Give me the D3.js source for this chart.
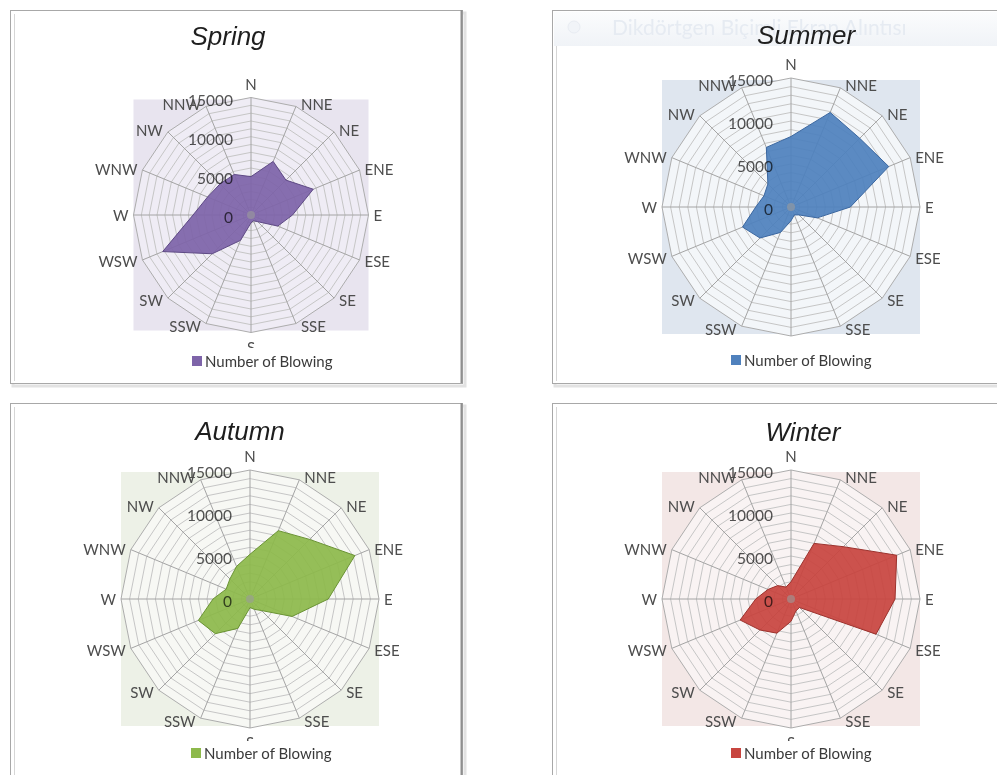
<!DOCTYPE html>
<html>
<head>
<meta charset="utf-8">
<script src="https://cdn.jsdelivr.net/npm/d3@7"></script>
<style>
  html, body { margin: 0; padding: 0; background: #ffffff; }
  svg { display: block; }
  .dir { font-family: Lato, "Open Sans", sans-serif; font-size: 15px; fill: #4d4d4d; }
  .tick { font-family: Lato, "Open Sans", sans-serif; font-size: 15.5px; fill: #555555; mix-blend-mode: multiply; }
  .title { font-family: "Liberation Sans", Arial, sans-serif; font-style: italic; font-size: 26px; fill: #1e1e1e; }
  .legend { font-family: Lato, "Open Sans", sans-serif; font-size: 15px; fill: #3a3a3a; }
  .hdr { font-family: Lato, sans-serif; font-size: 21px; fill: #e6ebf2; }
</style>
</head>
<body>
<svg id="chart" width="997" height="775"></svg>
<script>
// Wind directions, clockwise from north
const directions = ["N","NNE","NE","ENE","E","ESE","SE","SSE","S","SSW","SW","WSW","W","WNW","NW","NNW"];

// Number of blowings per direction, one array per season
const springValues = [4900, 7400, 6300, 8600, 5300, 3700, 1200, 800, 1000, 3500, 7000, 12200, 7400, 6000, 5600, 5600];
const summerValues = [8200, 11900, 11300, 12300, 6900, 3300, 1300, 1000, 1600, 3200, 5100, 6100, 4100, 3400, 3800, 7500];
const autumnValues = [5200, 8600, 9800, 13200, 9100, 5300, 1900, 1300, 1000, 3700, 5700, 6500, 4300, 3000, 3300, 4100];
const winterValues = [2000, 7000, 8600, 13300, 12100, 10700, 1400, 1500, 2600, 4300, 5100, 6400, 4100, 2900, 2200, 1500];

const seasonNames = ["Spring", "Summer", "Autumn", "Winter"];
const tickValues = [0, 5000, 10000, 15000];
const ringValues = d3.range(1000, 15001, 1000);
const axisMax = 15000;
const seriesName = "Number of Blowing";

// Panel layout and styling
const panels = [
  { values: springValues, frame: [10, 10, 462, 383], cx: 251, cy: 215, R: 117.5, titleX: 228, titleY: 45,
    legendX: 192, legendY: 356, sClip: 348,
    fill: "#7e64a9", stroke: "#5e4985", bg: "#e8e4ef", web: "#efecf5" },
  { values: summerValues, frame: [552, 10, 1004, 383], cx: 791, cy: 207, R: 129, titleX: 806, titleY: 44,
    legendX: 731, legendY: 355, sClip: 344,
    fill: "#4f81bd", stroke: "#3b67a0", bg: "#dfe6ef", web: "#f3f6f9", header: true },
  { values: autumnValues, frame: [10, 403, 462, 790], cx: 250, cy: 599, R: 129, titleX: 240, titleY: 440,
    legendX: 191, legendY: 748, sClip: 741,
    fill: "#8db94b", stroke: "#6a9334", bg: "#edf1e7", web: "#f7f8f4" },
  { values: winterValues, frame: [552, 403, 1004, 790], cx: 791, cy: 599, R: 129, titleX: 803, titleY: 441,
    legendX: 731, legendY: 748, sClip: 741,
    fill: "#c8453f", stroke: "#9c322d", bg: "#f3e7e6", web: "#f9f3f3" }
];

const svg = d3.select("#chart");
const defs = svg.append("defs");

const hdrGrad = defs.append("linearGradient").attr("id", "hdrGrad").attr("x1", 0).attr("y1", 0).attr("x2", 0).attr("y2", 1);
hdrGrad.append("stop").attr("offset", "0%").attr("stop-color", "#fbfcfd");
hdrGrad.append("stop").attr("offset", "100%").attr("stop-color", "#f0f3f7");

const angle = d3.scaleLinear().domain([0, directions.length]).range([0, 2 * Math.PI]);

panels.forEach((p, pi) => {
  const g = svg.append("g");
  const [x0, y0, x1, y1] = p.frame;

  // Frame with a soft shadow
  g.append("rect").attr("x", x0 + 3).attr("y", y0 + 3).attr("width", x1 - x0).attr("height", y1 - y0)
    .attr("fill", "none").attr("stroke", "#e2e2e2").attr("stroke-width", 3);
  g.append("rect").attr("x", x0 + 0.5).attr("y", y0 + 0.5).attr("width", x1 - x0).attr("height", y1 - y0)
    .attr("fill", "#ffffff").attr("stroke", "#a8a8a8").attr("stroke-width", 1);
  g.append("line").attr("x1", x0 + 4.5).attr("x2", x0 + 4.5).attr("y1", y0 + 4).attr("y2", y1 - 2)
    .attr("stroke", "#d6d6d6").attr("stroke-width", 1);
  g.append("line").attr("x1", x1 - 0.5).attr("x2", x1 - 0.5).attr("y1", y0).attr("y2", y1)
    .attr("stroke", "#8f8f8f").attr("stroke-width", 2);

  if (p.header) {
    // Faded caption bar across the top of this panel
    g.append("rect").attr("x", x0 + 2).attr("y", y0 + 2).attr("width", 997 - x0 - 2).attr("height", 34)
      .attr("fill", "url(#hdrGrad)");
    g.append("circle").attr("cx", x0 + 22).attr("cy", y0 + 17).attr("r", 6)
      .attr("fill", "#f1f4f8").attr("stroke", "#e8ecf2");
    g.append("text").attr("class", "hdr").attr("x", x0 + 60).attr("y", y0 + 25)
      .text("Dikdörtgen Biçimli Ekran Alıntısı");
  }

  const r = d3.scaleLinear().domain([0, axisMax]).range([0, p.R]);

  // Plot area background
  g.append("rect").attr("x", p.cx - p.R).attr("y", p.cy - p.R + 2)
    .attr("width", 2 * p.R).attr("height", 2 * p.R - 4).attr("fill", p.bg);

  const plot = g.append("g").attr("transform", `translate(${p.cx},${p.cy})`);
  const ring = v => d3.lineRadial().curve(d3.curveLinearClosed)
    .angle((d, i) => angle(i)).radius(() => r(v))(directions);

  // Web interior
  plot.append("path").attr("d", ring(axisMax)).attr("fill", p.web);

  // Concentric grid polygons
  plot.selectAll("path.ring").data(ringValues).join("path").attr("class", "ring")
    .attr("d", d => ring(d)).attr("fill", "none")
    .attr("stroke", d => d === axisMax ? "#adadad" : "#c6c6c6").attr("stroke-width", 1);

  // Spokes
  plot.selectAll("line.spoke").data(directions).join("line").attr("class", "spoke")
    .attr("x1", 0).attr("y1", 0)
    .attr("x2", (d, i) => r(axisMax) * Math.sin(angle(i)))
    .attr("y2", (d, i) => -r(axisMax) * Math.cos(angle(i)))
    .attr("stroke", "#a4a4a4").attr("stroke-width", 1);

  // Filled series area
  const area = d3.lineRadial().curve(d3.curveLinearClosed)
    .angle((d, i) => angle(i)).radius(d => r(d));
  plot.append("path").datum(p.values).attr("d", area)
    .attr("fill", p.fill).attr("fill-opacity", 0.93)
    .attr("stroke", p.stroke).attr("stroke-width", 1);

  // Faint centre hub
  plot.append("circle").attr("r", 4).attr("fill", "#9c9c9c").attr("fill-opacity", 0.6);

  // Value axis labels along the north spoke
  plot.selectAll("text.tick").data(tickValues).join("text").attr("class", "tick")
    .attr("x", -18).attr("y", d => -r(d) + 2)
    .attr("text-anchor", "end").attr("dominant-baseline", "central")
    .text(d => d);

  // Direction labels
  const clipId = "sclip" + pi;
  defs.append("clipPath").attr("id", clipId).append("rect")
    .attr("x", -40).attr("y", -p.R - 60).attr("width", 80).attr("height", p.sClip - p.cy + p.R + 60);

  const gap = 5;
  plot.selectAll("text.dir").data(directions).join("text").attr("class", "dir")
    .each(function (d, i) {
      const a = angle(i);
      const s = Math.sin(a), c = Math.cos(a);
      const ex = p.R * s, ey = -p.R * c;
      const t = d3.select(this).attr("dominant-baseline", "central");
      if (Math.abs(s) < 0.1) {
        t.attr("text-anchor", "middle").attr("x", ex).attr("y", ey - 14 * c);
      } else {
        t.attr("text-anchor", s > 0 ? "start" : "end")
          .attr("x", ex + gap * Math.sign(s)).attr("y", ey - 3 * c);
      }
      if (d === "S") t.attr("clip-path", `url(#${clipId})`);
    })
    .text(d => d);

  // Title
  g.append("text").attr("class", "title").attr("x", p.titleX).attr("y", p.titleY)
    .attr("text-anchor", "middle").text(seasonNames[pi]);

  // Legend
  g.append("rect").attr("x", p.legendX).attr("y", p.legendY).attr("width", 10).attr("height", 10)
    .attr("fill", p.fill);
  g.append("text").attr("class", "legend").attr("x", p.legendX + 13).attr("y", p.legendY + 5)
    .attr("dominant-baseline", "central").text(seriesName);
});
</script>
</body>
</html>
